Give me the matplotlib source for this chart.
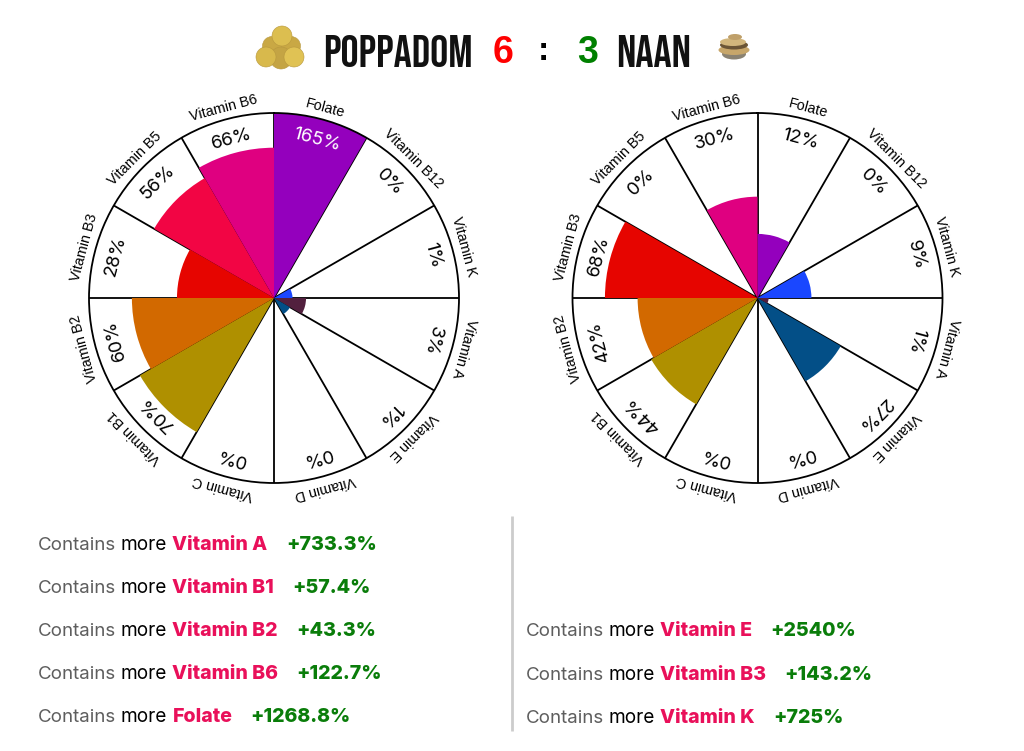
from matplotlib import pyplot as plt
from matplotlib.patches import Circle, Ellipse
import numpy as np

# clockwise from 12 o'clock
nutrients = ['Folate', 'Vitamin B12', 'Vitamin K', 'Vitamin A', 'Vitamin E', 'Vitamin D',
             'Vitamin C', 'Vitamin B1', 'Vitamin B2', 'Vitamin B3', 'Vitamin B5', 'Vitamin B6']
poppadom = [165, 0, 1, 3, 1, 0, 0, 70, 59, 27.5, 56, 66]
naan = [12, 0, 8.5, 0.36, 27, 0, 0, 44, 42, 68, 0, 30]
poppadom_labels = ['165%', '0%', '1%', '3%', '1%', '0%', '0%', '70%', '60%', '28%', '56%', '66%']
naan_labels = ['12%', '0%', '9%', '1%', '27%', '0%', '0%', '44%', '42%', '68%', '0%', '30%']
colors = ['#9400BD', '#1A1AFF', '#1A47FF', '#52203E', '#034F87', '#034F87',
          '#034F87', '#AF9000', '#D26900', '#E60500', '#F20544', '#DF0080']

left_rows = [('Vitamin A', '+733.3%'), ('Vitamin B1', '+57.4%'), ('Vitamin B2', '+43.3%'),
             ('Vitamin B6', '+122.7%'), ('Folate', '+1268.8%')]
right_rows = [('Vitamin E', '+2540%'), ('Vitamin B3', '+143.2%'), ('Vitamin K', '+725%')]

W, H = 1024, 751
RADIUS = 185
SCALE = RADIUS / 10  # pixels per sqrt(percent)

plt.rcParams['font.family'] = ['Inter', 'DejaVu Sans']
HEAD_FONT = ['Bebas Neue', 'Barlow Condensed', 'DejaVu Sans']
SANS_FONT = ['Liberation Sans', 'DejaVu Sans']

fig = plt.figure(figsize=(W / 100, H / 100), dpi=100, facecolor='white')

# overlay in pixel coordinates for the header, icons and the list below the charts
over = fig.add_axes([0, 0, 1, 1], zorder=5)
over.set_xlim(0, W)
over.set_ylim(H, 0)
over.axis('off')


def draw_rose(cx, cy, values, labels):
    ax = fig.add_axes([(cx - RADIUS) / W, 1 - (cy + RADIUS) / H, 2 * RADIUS / W, 2 * RADIUS / H],
                      projection='polar')
    ax.set_theta_zero_location('N')
    ax.set_theta_direction(-1)
    step = np.deg2rad(30)
    mids = step * (np.arange(len(values)) + 0.5)

    # area of each wedge follows the percentage, 100% fills the circle
    ax.bar(mids, np.sqrt(values), width=step, color=colors, linewidth=0, zorder=2)
    ax.set_ylim(0, 10)
    ax.set_xticks(step * np.arange(len(values)))
    ax.set_xticklabels([])
    ax.set_yticks([])
    ax.set_axisbelow(True)
    ax.grid(True, axis='x', color='black', linewidth=1.3)
    ax.spines['polar'].set_linewidth(1.3)
    ax.spines['polar'].set_color('black')

    for mid, name, val, lab in zip(mids, nutrients, values, labels):
        rot = -np.rad2deg(mid)
        ax.text(mid, 196.5 / SCALE, name, rotation=rot, rotation_mode='anchor', ha='center', va='center',
                family=SANS_FONT, fontsize=10.4, color='black', zorder=6)
        ax.text(mid, 164 / SCALE, lab, rotation=rot, rotation_mode='anchor', ha='center', va='center',
                fontsize=13.4, color='white' if val > 100 else 'black', zorder=6)


def draw_row(x, y, name, change):
    renderer = fig.canvas.get_renderer()
    parts = [('Contains', '#5E5E5E', 'normal', 13.5, 4), ('more', 'black', 'normal', 13.7, 6),
             (name, '#E9105A', 800, 14.1, 18), (change, '#0A7D0A', 800, 14.1, 0)]
    for text, color, weight, size, gap in parts:
        t = over.text(x, y, text, color=color, fontweight=weight, fontsize=size, va='baseline', ha='left')
        x = t.get_window_extent(renderer).x1 + gap


draw_rose(274, 298, poppadom, poppadom_labels)
draw_rose(757.5, 298, naan, naan_labels)

# header
over.text(398, 67, 'POPPADOM', family=HEAD_FONT, fontsize=32.5, ha='center', va='baseline', color='#111111')
over.text(654, 67, 'NAAN', family=HEAD_FONT, fontsize=32.5, ha='center', va='baseline', color='#111111')
over.text(503, 63, '6', family=SANS_FONT, fontweight='bold', fontsize=27,
          color='#FF0000', ha='center', va='baseline')
over.text(543, 60, ':', family=SANS_FONT, fontweight='bold', fontsize=24,
          color='black', ha='center', va='baseline')
over.text(588, 63, '3', family=SANS_FONT, fontweight='bold', fontsize=27,
          color='#008000', ha='center', va='baseline')

# poppadom icon
for px, py, pr, col in [(272, 46, 9.5, '#C9A844'), (291, 46, 9.5, '#C9A844'), (281, 58, 11, '#C4A444'),
                        (282, 36, 10, '#DCBE50'), (266, 57, 10, '#D8B94C'), (294, 57, 10, '#E0C254')]:
    over.add_patch(Circle((px, py), pr, facecolor=col, edgecolor='#B8983E', linewidth=0.4))

# naan icon
over.add_patch(Ellipse((734, 54), 24, 11, facecolor='#8A8272', edgecolor='none'))
over.add_patch(Ellipse((734, 50), 31, 10, facecolor='#C7A66A', edgecolor='none'))
over.add_patch(Ellipse((734, 45), 28, 9, facecolor='#6B5536', edgecolor='none'))
over.add_patch(Ellipse((733, 42), 26, 8, facecolor='#D2B67C', edgecolor='none'))
over.add_patch(Ellipse((735, 37), 14, 6, facecolor='#BFA06A', edgecolor='none'))

# comparison list
for i, (name, change) in enumerate(left_rows):
    draw_row(38, 550 + i * 43.1, name, change)
for i, (name, change) in enumerate(right_rows):
    draw_row(526, 636.5 + i * 43.1, name, change)
over.plot([512, 512], [516, 731], color='#CCCCCC', linewidth=2, solid_capstyle='butt')

fig.savefig('out.png', dpi=100)
